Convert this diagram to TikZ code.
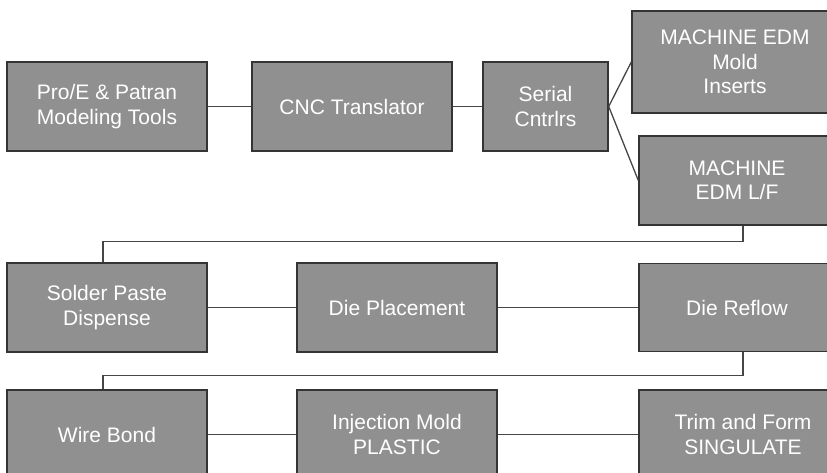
\documentclass[tikz,border=0pt]{standalone}
\usepackage{fontspec}
\setmainfont{Liberation Sans}
\definecolor{boxfill}{RGB}{144,144,144}
\definecolor{boxline}{RGB}{52,52,52}
\definecolor{wire}{RGB}{70,70,70}
\begin{document}
\begin{tikzpicture}[x=1pt,y=-1pt,
  box/.style={draw=boxline, line width=1.4pt, fill=boxfill, inner sep=0pt,
    text=white, align=center, font=\fontsize{21}{24.5}\selectfont},
  wireline/.style={draw=wire, line width=1.3pt}]
\useasboundingbox (0,0) rectangle (827,473);
\clip (0,0) rectangle (827,473);
\fill[white] (0,0) rectangle (827,473);

% first row: modelling chain
\node[box, minimum width=200pt, minimum height=89pt] (b1) at (107,106.5) {Pro/E \& Patran\\Modeling Tools};
\node[box, minimum width=200pt, minimum height=89pt] (b2) at (352,106.5) {CNC Translator};
\node[box, minimum width=125pt, minimum height=89pt] (b3) at (545.5,106.5) {Serial\\Cntrlrs};
\node[box, minimum width=206pt, minimum height=102pt] (b4) at (735,62) {MACHINE EDM\\Mold\\Inserts};
\node[box, minimum width=196pt, minimum height=89pt] (b5) at (737,180.5) {MACHINE\\EDM L/F};

% second row: die attach
\node[box, minimum width=200pt, minimum height=89pt] (b6) at (107,307.5) {Solder Paste\\Dispense};
\node[box, minimum width=200pt, minimum height=89pt] (b7) at (397,307.5) {Die Placement};
\node[box, minimum width=196pt, minimum height=88pt] (b8) at (737,307.5) {Die Reflow};

% third row: packaging
\node[box, minimum width=200pt, minimum height=89pt] (b9) at (107,434.5) {Wire Bond};
\node[box, minimum width=200pt, minimum height=89pt] (b10) at (397,434.5) {Injection Mold\\PLASTIC};
\node[box, minimum width=208pt, minimum height=89pt] (b11) at (743,434.5) {Trim and Form\\SINGULATE};

% connectors
\draw[wireline] (b1.east) -- (b2.west);
\draw[wireline] (b2.east) -- (b3.west);
\draw[wireline] (b3.east) -- (b4.west);
\draw[wireline] (b3.east) -- (b5.west);
\draw[wireline] ([xshift=6pt]b5.south) -- ++(0,16) -| ([xshift=-4pt]b6.north);
\draw[wireline] (b6.east) -- (b7.west);
\draw[wireline] (b7.east) -- (b8.west);
\draw[wireline] ([xshift=6pt]b8.south) -- ++(0,23.5) -| ([xshift=-4pt]b9.north);
\draw[wireline] (b9.east) -- (b10.west);
\draw[wireline] (b10.east) -- (b11.west);
\end{tikzpicture}
\end{document}
